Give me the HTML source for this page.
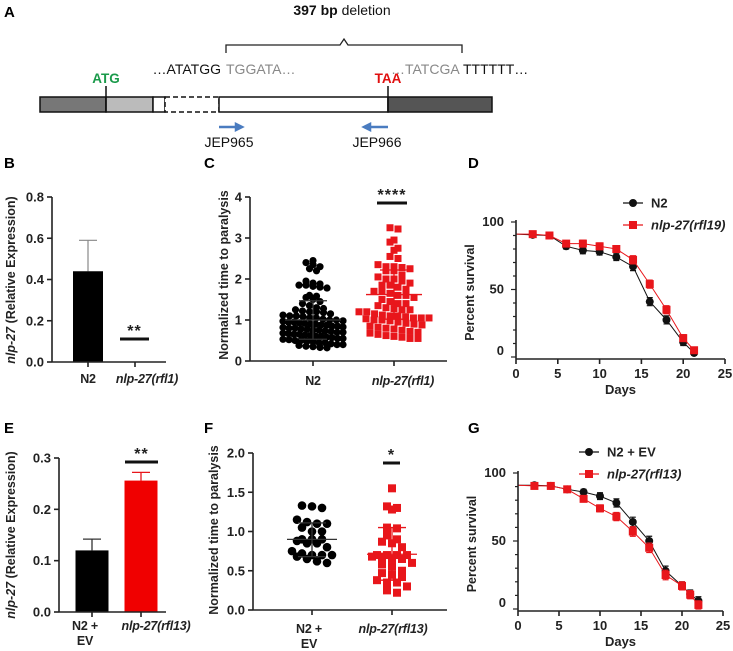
<!DOCTYPE html>
<html><head><meta charset="utf-8">
<style>
html,body{margin:0;padding:0;background:#fff;}
svg{display:block;font-family:"Liberation Sans",Arial,sans-serif;}
.t{font-weight:bold;font-size:13px;fill:#222;}
.c{font-weight:bold;font-size:12.5px;fill:#222;letter-spacing:-0.2px;}
.ttl{font-weight:bold;font-size:12.5px;fill:#222;}
.pl{font-weight:bold;font-size:15px;fill:#000;}
</style></head>
<body>
<svg id="fig" width="733" height="651" viewBox="0 0 733 651">
  <g>
    <text class="pl" x="4" y="17">A</text>
    <text x="342" y="15" text-anchor="middle" font-size="14" fill="#111"><tspan font-weight="bold">397 bp</tspan> deletion</text>
    <path d="M226,53 V45 H340 L344,39 L348,45 H462 V53" fill="none" stroke="#222" stroke-width="1.3"/>
    <text x="221" y="74" text-anchor="end" font-size="14" fill="#111">…ATATGG</text>
    <text x="226" y="74" font-size="14" fill="#888">TGGATA…</text>
    <text x="391" y="74" font-size="14" fill="#888">…TATCGA</text>
    <text x="463" y="74" font-size="14" fill="#111">TTTTTT…</text>
    <text x="106" y="83" text-anchor="middle" font-size="13.5" font-weight="bold" fill="#1a9a4a">ATG</text>
    <text x="388" y="83" text-anchor="middle" font-size="13.5" font-weight="bold" fill="#e01010">TAA</text>
    <rect x="40" y="97" width="66" height="15" fill="#777" stroke="#111" stroke-width="1.5"/>
    <rect x="106" y="97" width="47" height="15" fill="#bbb" stroke="#111" stroke-width="1.5"/>
    <rect x="153" y="97" width="12" height="15" fill="#fff" stroke="#111" stroke-width="1.5"/>
    <rect x="165" y="97" width="54" height="15" fill="#fff" stroke="#111" stroke-width="1.5" stroke-dasharray="5,3"/>
    <rect x="219" y="97" width="169" height="15" fill="#fff" stroke="#111" stroke-width="1.5"/>
    <rect x="388" y="97" width="104" height="15" fill="#555" stroke="#111" stroke-width="1.5"/>
    <line x1="106" y1="86" x2="106" y2="112" stroke="#111" stroke-width="1.5"/>
    <line x1="388" y1="86" x2="388" y2="112" stroke="#111" stroke-width="1.5"/>
    <path d="M219,127 H236 M236,124 L242,127 L236,130 Z" stroke="#4a7cc0" stroke-width="2.5" fill="#4a7cc0"/>
    <path d="M388,127 H370 M370,124 L364,127 L370,130 Z" stroke="#4a7cc0" stroke-width="2.5" fill="#4a7cc0"/>
    <text x="229" y="147" text-anchor="middle" font-size="14" fill="#111">JEP965</text>
    <text x="377" y="147" text-anchor="middle" font-size="14" fill="#111">JEP966</text>
  </g>
  <text class="pl" x="4" y="168">B</text>
  <text class="pl" x="204" y="168">C</text>
  <text class="pl" x="468" y="168">D</text>
  <text class="pl" x="4" y="433">E</text>
  <text class="pl" x="204" y="433">F</text>
  <text class="pl" x="468" y="433">G</text>
</svg>
<script>
// ---- data ----
const bCats = ["N2", "nlp-27(rfl1)"];
const bVals = [0.44, 0.0];
const bErr = [0.15, 0];
const bTicks = [0.0, 0.2, 0.4, 0.6, 0.8];

const cCats = ["N2", "nlp-27(rfl1)"];
const cN2 = [2.45,2.4,2.35,2.3,2.25,2.2,1.95,1.9,1.88,1.85,1.85,1.82,1.8,1.78,1.6,1.58,1.55,1.5,1.45,1.4,1.35,1.3,1.28,1.25,1.22,1.2,1.2,1.18,1.15,1.12,1.1,1.1,1.08,1.05,1.05,1.02,1.0,1.0,0.98,0.97,0.95,0.95,0.93,0.92,0.9,0.9,0.88,0.87,0.85,0.85,0.83,0.82,0.8,0.8,0.78,0.77,0.75,0.75,0.73,0.72,0.7,0.7,0.68,0.67,0.65,0.65,0.63,0.62,0.6,0.6,0.58,0.57,0.55,0.55,0.53,0.52,0.5,0.5,0.48,0.47,0.45,0.45,0.42,0.4,0.4,0.38,0.36,0.35,0.33,0.32];
const cMut = [3.25,3.22,2.95,2.9,2.75,2.7,2.55,2.5,2.35,2.3,2.3,2.28,2.25,2.2,2.2,2.1,2.05,2.0,2.0,1.95,1.9,1.85,1.85,1.8,1.75,1.7,1.7,1.65,1.6,1.6,1.55,1.5,1.45,1.4,1.4,1.35,1.3,1.28,1.25,1.25,1.2,1.2,1.15,1.12,1.1,1.1,1.08,1.05,1.05,1.05,1.03,1.0,1.0,0.98,0.95,0.92,0.9,0.88,0.85,0.82,0.8,0.78,0.75,0.72,0.7,0.68,0.65,0.62,0.6,0.58,0.55,0.55];
const cMean = [1.0, 1.62];
const cSD = [0.47, 0.6];
const cTicks = [0,1,2,3,4];

const dDays = [0,2,4,6,8,10,12,14,16,18,20,21.3];
const dN2 = [91,90.5,90,82,79,78,74,67,41,27.5,11,3];
const dMut = [91,91,90,84,84,82,80,72,54,35,14,5];
const dErr = [1.5,1.5,1.5,2,2.5,2.5,2.5,3,3,3,2.5,1.5];
const dTicksX = [0,5,10,15,20,25];
const dTicksY = [0,50,100];

const eCats = ["N2 + EV", "nlp-27(rfl13)"];
const eVals = [0.12, 0.256];
const eErr = [0.022, 0.016];
const eTicks = [0.0,0.1,0.2,0.3];

const fN2 = [1.33,1.32,1.30,1.15,1.12,1.1,1.1,1.05,1.0,1.0,0.9,0.9,0.9,0.88,0.85,0.85,0.8,0.75,0.72,0.7,0.7,0.7,0.68,0.65,0.62,0.6];
const fMut = [1.55,1.32,1.3,1.28,1.05,1.04,0.95,0.9,0.87,0.85,0.8,0.7,0.7,0.7,0.7,0.68,0.68,0.65,0.65,0.6,0.58,0.55,0.5,0.47,0.45,0.42,0.38,0.35,0.35,0.3,0.25,0.22];
const fMean = [0.9, 0.71];
const fLo = [0.68, 0.38];
const fHi = [1.11, 1.05];
const fTicks = [0,0.5,1.0,1.5,2.0];

const gDays = [0,2,4,6,8,10,12,14,16,18,20,21,22];
const gN2 = [91,91,90.5,88,86,83,78,64,50,28,17,11,6];
const gMut = [91,90.5,90.5,88,81,74,68,57,45,25,17,10.5,3];
const gErr = [1,1.5,1.5,1.5,2,2.5,3,3.5,3.5,3.5,3,3,3];
const gTicksX = [0,5,10,15,20,25];
const gTicksY = [0,50,100];

// ---- helpers ----
const NS = "http://www.w3.org/2000/svg";
const svg = document.getElementById("fig");
function mk(tag, a, parent) {
  const e = document.createElementNS(NS, tag);
  for (const k in a) e.setAttribute(k, a[k]);
  (parent || svg).appendChild(e);
  return e;
}
function txt(s, a, parent) { const e = mk("text", a, parent); e.textContent = s; return e; }
function fmt(v, d) { return v.toFixed(d); }

function yAxis(g, x, y0, y1, ticks, sc, dec, name) {
  let l = mk("line", {x1:x, y1:y0, x2:x, y2:y1, stroke:"#222", "stroke-width":1.6}, g);
  
  
  ticks.forEach(v => {
    const y = sc(v);
    let t = mk("line", {x1:x-5, y1:y, x2:x, y2:y, stroke:"#222", "stroke-width":1.6}, g);
    
    
    let lb = txt(fmt(v, dec), {x:x-8, y:y+4.5, "text-anchor":"end", class:"t"}, g);
    
    
  });
}
function xAxisLine(g, x0, x1, y, name) {
  let l = mk("line", {x1:x0, y1:y, x2:x1, y2:y, stroke:"#222", "stroke-width":1.6}, g);
  
  
}
function catTick(g, x, y, name) {
  let t = mk("line", {x1:x, y1:y, x2:x, y2:y+5, stroke:"#222", "stroke-width":1.6}, g);
  
  
}
function catLabel(g, s, x, y, name) {
  const lines = s === "N2 + EV" ? ["N2 +", "EV"] : [s];
  lines.forEach((ln, i) => {
    const isMut = ln.indexOf("nlp") === 0;
    let lb = txt(ln, {x:x, y:y + i*15, "text-anchor":"middle", class:"c", "font-style": isMut ? "italic" : "normal"}, g);
    
    
  });
}
function yTitle(g, x, y, parts, name) {
  const t = mk("text", {transform:`translate(${x},${y}) rotate(-90)`, "text-anchor":"middle", class:"ttl"}, g);
  
  
  parts.forEach(p => {
    const s = document.createElementNS(NS, "tspan");
    if (p[1]) s.setAttribute("font-style", "italic");
    s.textContent = p[0];
    t.appendChild(s);
  });
}
function sig(g, x0, x1, yl, stars, name) {
  let l = mk("line", {x1:x0, y1:yl, x2:x1, y2:yl, stroke:"#111", "stroke-width":3}, g);
  
  
  let s = txt(stars, {x:(x0+x1)/2, y:yl-3, "text-anchor":"middle", "font-size":16, "font-weight":"bold", fill:"#222", "letter-spacing":"1"}, g);
  
  
}
// beeswarm-like layout, capped at half-width W
function swarm(vals, cx, sc, spacing, binPx, W) {
  const counts = {}, seen = {};
  vals.forEach(v => { const b = Math.round(sc(v)/binPx); counts[b] = (counts[b]||0)+1; });
  return vals.map(v => {
    const y = sc(v);
    const b = Math.round(y / binPx);
    const n = counts[b];
    const idx = seen[b] = (seen[b] === undefined ? 0 : seen[b] + 1);
    const step = n > 1 ? Math.min(spacing, 2*W/(n-1)) : 0;
    const off = (idx - (n-1)/2) * step;
    return [cx + off, y];
  });
}

// ---- Panel B ----
(function(){
  const g = mk("g", {});
  
  
  const y = v => 362 - v/0.8*165;
  const xs = [88, 135], lx = [88, 147], bw = 30;
  bVals.forEach((v, i) => {
    if (bErr[i] > 0) {
      let e = mk("path", {d:`M${xs[i]},${y(v)} V${y(v+bErr[i])} M${xs[i]-9},${y(v+bErr[i])} H${xs[i]+9}`, stroke:"#888", "stroke-width":1.2, fill:"none"}, g);
      
      
    }
    let r = mk("rect", {x:xs[i]-bw/2, y:y(v), width:bw, height:y(0)-y(v), fill:"#000"}, g);
    
    
  });
  yAxis(g, 52, 197, 362, bTicks, y, 1, 'panel-b');
  xAxisLine(g, 52, 166, 362, 'panel-b');
  xs.forEach((x, i) => { catTick(g, x, 362, 'panel-b'); catLabel(g, bCats[i], lx[i], 383, 'panel-b'); });
  sig(g, 120, 149, 339, "**", 'panel-b');
  yTitle(g, 15, 280, [["nlp-27", true], [" (Relative Expression)", false]], 'panel-b');
})();

// ---- Panel C ----
(function(){
  const g = mk("g", {});
  
  
  const y = v => 361 - v/4*164;
  const xs = [313, 394], lx = [313, 403];
  swarm(cN2, xs[0], y, 7, 6, 30).forEach(p => {
    let c = mk("circle", {cx:p[0], cy:p[1], r:3.6, fill:"#000"}, g);
    
    
  });
  swarm(cMut, xs[1], y, 8, 7, 35).forEach(p => {
    let c = mk("rect", {x:p[0]-3.5, y:p[1]-3.5, width:7, height:7, fill:"#e8161b"}, g);
    
    
  });
  [cN2, cMut].forEach((_, i) => {
    const col = i ? "#e8161b" : "#333";
    let m = mk("path", {d:`M${xs[i]-28},${y(cMean[i])} H${xs[i]+28} M${xs[i]},${y(cMean[i]-cSD[i])} V${y(cMean[i]+cSD[i])} M${xs[i]-14},${y(cMean[i]+cSD[i])} H${xs[i]+14} M${xs[i]-14},${y(cMean[i]-cSD[i])} H${xs[i]+14}`, stroke:col, "stroke-width":1.3, fill:"none"}, g);
    
    
  });
  yAxis(g, 250, 197, 361, cTicks, y, 0, 'panel-c');
  xAxisLine(g, 250, 447, 361, 'panel-c');
  xs.forEach((x, i) => { catTick(g, x, 361, 'panel-c'); catLabel(g, cCats[i], lx[i], 385, 'panel-c'); });
  sig(g, 377, 407, 203, "****", 'panel-c');
  yTitle(g, 228, 275, [["Normalized time to paralysis", false]], 'panel-c');
})();

// ---- survival helper ----
function survival(name, ox, oy0, oy100, xEnd, days, s1, s2, err, tX, tY, leg, legY, legX) {
  const g = mk("g", {});
  
  
  const x = d => ox + d/25*(xEnd-ox);
  const y = p => oy0 - p/100*(oy0-oy100);
  [[s1, "#111", "n2"], [s2, "#e8161b", "mutant"]].forEach(([s, col, nm], si) => {
    let pl = mk("polyline", {points: days.map((d, i) => `${x(d)},${y(s[i])}`).join(" "), fill:"none", stroke:col, "stroke-width":1}, g);
    
    
    days.forEach((d, i) => {
      if (i === 0) return;
      const cx = x(d), cy = y(s[i]);
      let e = mk("path", {d:`M${cx},${y(s[i]-err[i])} V${y(s[i]+err[i])} M${cx-3},${y(s[i]-err[i])} H${cx+3} M${cx-3},${y(s[i]+err[i])} H${cx+3}`, stroke:col, "stroke-width":1.2}, g);
      
      
      let m = si ? mk("rect", {x:cx-4, y:cy-4, width:8, height:8, fill:col}, g) : mk("circle", {cx:cx, cy:cy, r:4, fill:col}, g);
      
      
    });
  });
  let ya = mk("line", {x1:ox, y1:oy100-2, x2:ox, y2:oy0+2, stroke:"#222", "stroke-width":1.6}, g);
  
  
  for (let p = 0; p <= 100; p += 10) {
    let t = mk("line", {x1:ox-(p%50?3:5), y1:y(p), x2:ox, y2:y(p), stroke:"#222", "stroke-width":1.2}, g);
    
    
  }
  tY.forEach(p => {
    let lb = txt(String(p), {x:ox-12, y:y(p)+(p===0?-2:4), "text-anchor":"end", class:"t"}, g);
    
    
  });
  xAxisLine(g, ox, xEnd, oy0+2, name);
  tX.forEach(d => {
    let t = mk("line", {x1:x(d), y1:oy0+2, x2:x(d), y2:oy0+7, stroke:"#222", "stroke-width":1.6}, g);
    
    
    let lb = txt(String(d), {x:x(d), y:oy0+21, "text-anchor":"middle", class:"t"}, g);
    
    
  });
  let xt = txt("Days", {x:(ox+xEnd)/2, y:oy0+37, "text-anchor":"middle", class:"t"}, g);
  
  
  yTitle(g, ox-42, (oy0+oy100)/2 + 3, [["Percent survival", false]], name);
  leg.forEach((s, i) => {
    const ly = legY[i], col = i ? "#e8161b" : "#111";
    let l = mk("line", {x1:legX-10, y1:ly, x2:legX+10, y2:ly, stroke:col, "stroke-width":1.2}, g);
    
    
    let m = i ? mk("rect", {x:legX-4, y:ly-4, width:8, height:8, fill:col}, g) : mk("circle", {cx:legX, cy:ly, r:4, fill:col}, g);
    
    
    let lt = txt(s, {x:legX+18, y:ly+4.5, class:"t", "font-style": i ? "italic" : "normal"}, g);
    
    
  });
}
survival('panel-d', 516, 357, 222, 725, dDays, dN2, dMut, dErr, dTicksX, dTicksY, ["N2", "nlp-27(rfl19)"], [203, 225], 633);
survival('panel-g', 518, 609, 473, 723, gDays, gN2, gMut, gErr, gTicksX, gTicksY, ["N2 + EV", "nlp-27(rfl13)"], [452, 474], 589);

// ---- Panel E ----
(function(){
  const g = mk("g", {});
  
  
  const y = v => 612 - v/0.3*154;
  const xs = [92, 141], lx = [85, 156], bw = 33, cols = ["#000", "#f00000"];
  eVals.forEach((v, i) => {
    let e = mk("path", {d:`M${xs[i]},${y(v)} V${y(v+eErr[i])} M${xs[i]-9},${y(v+eErr[i])} H${xs[i]+9}`, stroke: i ? "#e8161b" : "#333", "stroke-width":1.3, fill:"none"}, g);
    
    
    let r = mk("rect", {x:xs[i]-bw/2, y:y(v), width:bw, height:y(0)-y(v), fill:cols[i]}, g);
    
    
  });
  yAxis(g, 59, 458, 612, eTicks, y, 1, 'panel-e');
  xAxisLine(g, 59, 166, 612, 'panel-e');
  xs.forEach((x, i) => { catTick(g, x, 612, 'panel-e'); catLabel(g, eCats[i], lx[i], 630, 'panel-e'); });
  sig(g, 125, 158, 462, "**", 'panel-e');
  yTitle(g, 15, 535, [["nlp-27", true], [" (Relative Expression)", false]], 'panel-e');
})();

// ---- Panel F ----
(function(){
  const g = mk("g", {});
  
  
  const y = v => 610 - v/2*157;
  const xs = [312, 392], lx = [309, 393];
  swarm(fN2, xs[0], y, 10, 8, 24).forEach(p => {
    let c = mk("circle", {cx:p[0], cy:p[1], r:4.3, fill:"#000"}, g);
    
    
  });
  swarm(fMut, xs[1], y, 10, 8, 24).forEach(p => {
    let c = mk("rect", {x:p[0]-4, y:p[1]-4, width:8, height:8, fill:"#e8161b"}, g);
    
    
  });
  [0,1].forEach(i => {
    const col = i ? "#e8161b" : "#333";
    let m = mk("path", {d:`M${xs[i]-25},${y(fMean[i])} H${xs[i]+25} M${xs[i]},${y(fLo[i])} V${y(fHi[i])} M${xs[i]-14},${y(fHi[i])} H${xs[i]+14} M${xs[i]-14},${y(fLo[i])} H${xs[i]+14}`, stroke:col, "stroke-width":1.3, fill:"none"}, g);
    
    
  });
  yAxis(g, 253, 453, 610, fTicks, y, 1, 'panel-f');
  xAxisLine(g, 253, 447, 610, 'panel-f');
  xs.forEach((x, i) => { catTick(g, x, 610, 'panel-f'); catLabel(g, eCats[i], lx[i], 633, 'panel-f'); });
  sig(g, 383, 400, 463, "*", 'panel-f');
  yTitle(g, 218, 530, [["Normalized time to paralysis", false]], 'panel-f');
})();
</script>
</body></html>
